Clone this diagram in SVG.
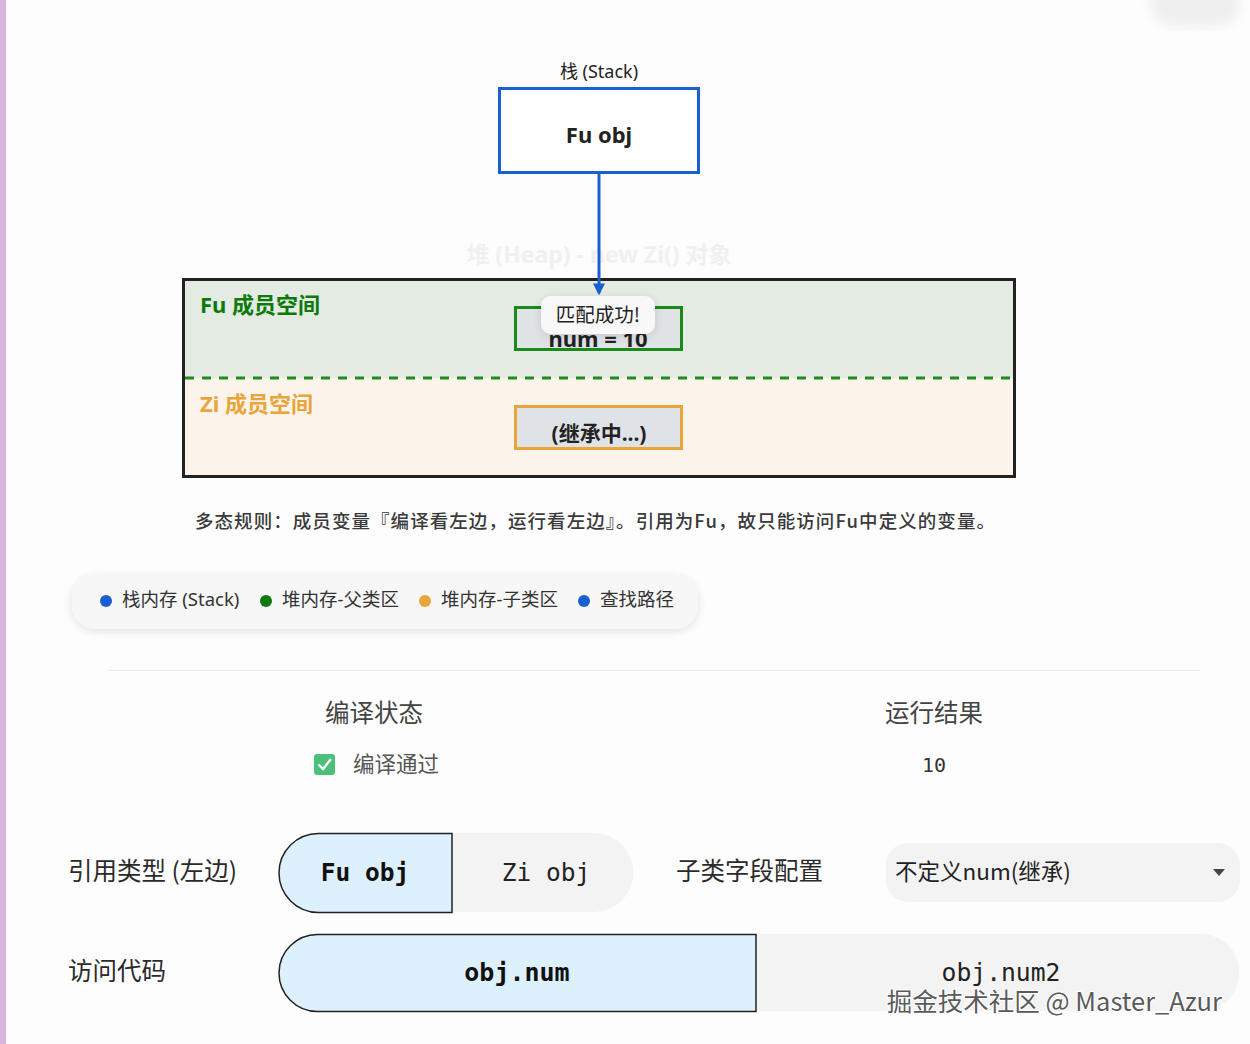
<svg xmlns="http://www.w3.org/2000/svg" width="1250" height="1044" viewBox="0 0 1250 1044">
<defs>
<style>
.sans{font-family:"Noto Sans","Noto Sans CJK SC",sans-serif;}
.cjk{font-family:"Noto Sans CJK SC","Noto Sans",sans-serif;}
.mono{font-family:"DejaVu Sans Mono","Liberation Mono",monospace;}
.lbl{font-size:24.5px;fill:#2a2a2a;}
.seg-on{fill:#dcf0fd;stroke:#222;stroke-width:1.5;}
.seg-off{fill:#f4f3f3;}
.leg{font-size:18.5px;fill:#333;}
</style>
<marker id="arr" viewBox="0 0 10 10" refX="8" refY="5" markerWidth="4" markerHeight="4" orient="auto"><path d="M0,0 L10,5 L0,10 Z" fill="#1a5fd0"/></marker>
<filter id="sh" x="-20%" y="-40%" width="140%" height="180%"><feGaussianBlur in="SourceAlpha" stdDeviation="5"/><feOffset dy="2"/><feComponentTransfer><feFuncA type="linear" slope="0.12"/></feComponentTransfer><feMerge><feMergeNode/><feMergeNode in="SourceGraphic"/></feMerge></filter>
<filter id="blur"><feGaussianBlur stdDeviation="6"/></filter>
</defs>
<rect width="1250" height="1044" fill="#fdfdfd"/>
<rect x="0" y="0" width="6" height="1044" fill="#d8b4df"/>
<rect x="1150" y="-20" width="90" height="46" rx="23" fill="#efefef" filter="url(#blur)"/>

<g id="stack">
<text x="599" y="78" text-anchor="middle" class="sans" font-size="18" fill="#222">栈 (Stack)</text>
<rect x="499.5" y="88.5" width="199" height="84" fill="#ffffff" stroke="#1a5fd0" stroke-width="3"/>
<text x="599" y="143" text-anchor="middle" class="sans" font-size="22" font-weight="bold" fill="#222">Fu obj</text>
</g>

<text x="599" y="263" text-anchor="middle" class="sans" font-size="23" font-weight="bold" fill="#f0f0f2">堆 (Heap) - new Zi() 对象</text>

<g id="heap">
<rect x="183.5" y="279.5" width="831" height="99" fill="#e3ebe3"/>
<rect x="183.5" y="378.5" width="831" height="98" fill="#fcf4ea"/>
<rect x="183.5" y="279.5" width="831" height="197" fill="none" stroke="#222" stroke-width="3"/>
<line x1="185" y1="378" x2="1013" y2="378" stroke="#1f8a1f" stroke-width="3" stroke-dasharray="9,8"/>
<text x="200" y="313" class="sans" font-size="22" font-weight="bold" fill="#0b7a0b">Fu 成员空间</text>
<text x="200" y="412" class="sans" font-size="22" font-weight="bold" fill="#e8a53a">Zi 成员空间</text>
</g>

<g id="fu-num">
<rect x="515.5" y="307.5" width="166" height="42" fill="#dfe3e6" stroke="#1a8a1a" stroke-width="3"/>
<text x="598" y="347" text-anchor="middle" class="sans" font-size="22" font-weight="bold" fill="#222">num = 10</text>
</g>

<g id="zi-box">
<rect x="515.5" y="406.5" width="166" height="42" fill="#dfe2e6" stroke="#e8a53a" stroke-width="3"/>
<text x="599" y="441" text-anchor="middle" class="sans" font-size="21" font-weight="bold" fill="#222">(继承中...)</text>
</g>

<g id="connectors">
<line x1="599" y1="173" x2="599" y2="293" stroke="#1a5fd0" stroke-width="3" marker-end="url(#arr)"/>
</g>

<g id="tooltip">
<rect x="541" y="296" width="114" height="38" rx="10" fill="#f8f8f8" filter="url(#sh)"/>
<text x="598" y="322" text-anchor="middle" class="cjk" font-size="19.5" fill="#222">匹配成功!</text>
</g>

<text x="195" y="528" class="cjk" font-size="18.5" font-weight="500" fill="#3a3a3a" textLength="800" lengthAdjust="spacing">多态规则：成员变量『编译看左边，运行看左边』。引用为Fu，故只能访问Fu中定义的变量。</text>

<g id="legend">
<rect x="72" y="575" width="626" height="54" rx="24" fill="#f7f7f7" filter="url(#sh)"/>
<circle cx="106" cy="601" r="6" fill="#1a5fd0"/>
<text x="122" y="606" class="sans leg">栈内存 (Stack)</text>
<circle cx="266" cy="601" r="6" fill="#0b7a0b"/>
<text x="282" y="606" class="sans leg">堆内存-父类区</text>
<circle cx="425" cy="601" r="6" fill="#e8a53a"/>
<text x="441" y="606" class="sans leg">堆内存-子类区</text>
<circle cx="584" cy="601" r="6" fill="#1a5fd0"/>
<text x="600" y="606" class="sans leg">查找路径</text>
</g>

<line x1="108" y1="670.5" x2="1200" y2="670.5" stroke="#ececec" stroke-width="1"/>

<g id="status">
<text x="325" y="722" class="cjk" font-size="24.5" fill="#444">编译状态</text>
<rect x="314" y="754" width="21" height="21" rx="3" fill="#4cc07a"/>
<path d="M318.5,764.5 L323,769 L331,759" fill="none" stroke="#fff" stroke-width="2.4"/>
<text x="353" y="772" class="cjk" font-size="21.5" fill="#555">编译通过</text>
<text x="885" y="722" class="cjk" font-size="24.5" fill="#444">运行结果</text>
<text x="934" y="772" text-anchor="middle" class="mono" font-size="20" fill="#333">10</text>
</g>

<g id="ref-type">
<text x="68" y="880" class="cjk lbl">引用类型 (左边)</text>
<path class="seg-off" d="M452,833 H594 A39.5,39.5 0 0 1 594,912 H452 Z"/>
<path class="seg-on" d="M452,833.5 H318.5 A39.5,39.5 0 0 0 318.5,912.5 H452 Z"/>
<text x="365" y="881" text-anchor="middle" class="mono" font-size="24.5" font-weight="bold" fill="#111">Fu obj</text>
<text x="546" y="881" text-anchor="middle" class="mono" font-size="24.5" fill="#222">Zi obj</text>
</g>

<g id="sub-config">
<text x="676" y="880" class="cjk lbl">子类字段配置</text>
<rect x="886" y="843" width="354" height="59" rx="22" fill="#f4f3f3"/>
<text x="895" y="880" class="cjk" font-size="22.5" fill="#222">不定义num(继承)</text>
<path d="M1213,869 L1225,869 L1219,876 Z" fill="#444"/>
</g>

<g id="access">
<text x="68" y="980" class="cjk lbl">访问代码</text>
<path class="seg-off" d="M756,934 H1201 A38.5,38.5 0 0 1 1201,1011 H756 Z"/>
<path class="seg-on" d="M756,934.5 H317.5 A38.5,38.5 0 0 0 317.5,1011.5 H756 Z"/>
<text x="517" y="981" text-anchor="middle" class="mono" font-size="25" font-weight="bold" fill="#111">obj.num</text>
<text x="1001" y="981" text-anchor="middle" class="mono" font-size="24.7" fill="#222">obj.num2</text>
</g>

<text x="1222" y="1011" text-anchor="end" class="cjk" font-size="25.5" fill="#5a5a5a" stroke="#ffffff" stroke-width="2" paint-order="stroke">掘金技术社区 @ Master_Azur</text>
</svg>
